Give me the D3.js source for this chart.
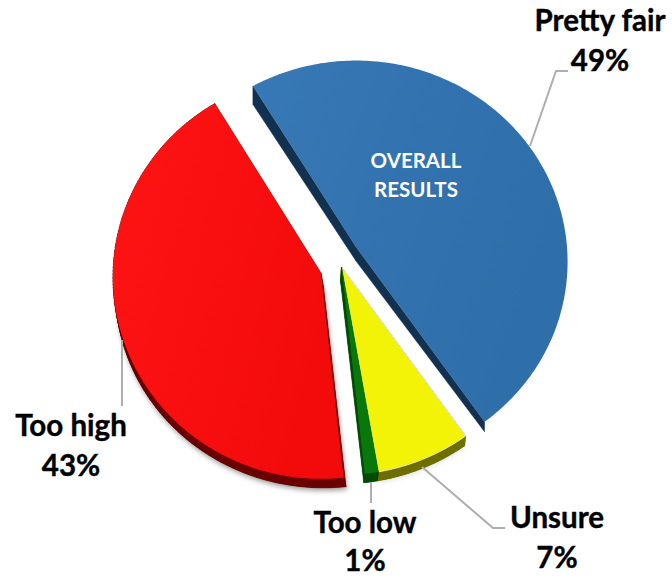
<!DOCTYPE html>
<html>
<head>
<meta charset="utf-8">
<script src="https://cdn.jsdelivr.net/npm/d3@7/dist/d3.min.js"></script>
<style>
html,body{margin:0;padding:0;background:#fff}
svg{display:block}
text{font-family:Lato,"Open Sans",sans-serif;font-weight:700;text-anchor:middle}
</style>
</head>
<body>
<svg id="c" width="672" height="578"></svg>
<script>
// data
const categories = ["Pretty fair", "Unsure", "Too low", "Too high"];
const values = [49, 7, 1, 43];
const centerTitle = ["OVERALL", "RESULTS"];
// style and layout
const faceColors = ["#3273b0", "#f3f308", "#08780a", "#f90d0d"];
const sideColors = ["#12304f", "#6e6e00", "#034a06", "#6a0000"];
const apexes = [[356, 247], [341.5, 267], [341.5, 267], [321, 273]];
const radii = [211, 208, 208, 208];
const dropShiftX = [0, -1, -1, 2.5];
const tilt = [0.949, 0.95, 0.95, 0.97];
const perspective = [0.074, 0.05, 0.05, 0.02];
const labelPos = [[600, 31, 71], [557, 528, 568], [365, 533, 571], [71, 436, 476]];
const leaders = [
  [[530, 146], [556, 71], [568, 71]],
  [[422, 467], [493, 528], [505, 528]],
  [[371, 482], [371, 503]],
  [[122, 340], [122, 406]]
];
const START = -31.3 * Math.PI / 180;

const svg = d3.select("#c");
const defs = svg.append("defs");
defs.append("filter").attr("id", "soft").attr("x", "-10%").attr("y", "-10%").attr("width", "120%").attr("height", "120%")
  .append("feGaussianBlur").attr("stdDeviation", 2.5);
const grads = [["g0", "#3778b6", "#2e6ea9"], ["g3", "#ff1414", "#f30a0a"]];
grads.forEach(([id, a, b]) => {
  const g = defs.append("linearGradient").attr("id", id).attr("x1", "0").attr("y1", "0").attr("x2", "1").attr("y2", "0.4");
  g.append("stop").attr("offset", "0").attr("stop-color", a);
  g.append("stop").attr("offset", "1").attr("stop-color", b);
});
const fills = [`url(#g0)`, faceColors[1], faceColors[2], `url(#g3)`];

const pie = d3.pie().sort(null).value(d => d).startAngle(START).endAngle(START + 2 * Math.PI);
const arcs = pie(values);
const line = d3.line();

// plane-to-screen projection with slight perspective
function project(a, r, apex, drop, i) {
  const u = Math.sin(a) * r, v = -Math.cos(a) * r, w = 1 - perspective[i] * v;
  const d = drop ? 14 - 5 * v : 0;
  const sx = drop ? dropShiftX[i] : 0;
  return [apex[0] + radii[i] * u / w + sx, apex[1] + radii[i] * tilt[i] * v / w + d];
}
function outline(arc, apex, drop, i) {
  const n = Math.max(4, Math.ceil((arc.endAngle - arc.startAngle) * 60));
  const pts = d3.range(n + 1).map(k => project(arc.startAngle + (arc.endAngle - arc.startAngle) * k / n, 1, apex, drop, i));
  return [project(0, 0, apex, drop, i), ...pts];
}

const order = [3, 0, 1, 2];
// soft shadow below the red and yellow slices
svg.append("path").attr("d", line(outline(arcs[3], [apexes[3][0] + 1, apexes[3][1] + 3], true, 3)) + "Z")
  .attr("fill", "#555").attr("opacity", .55).attr("filter", "url(#soft)");
svg.append("path").attr("d", line(outline(arcs[1], [apexes[1][0], apexes[1][1] + 2], true, 1)) + "Z")
  .attr("fill", "#777").attr("opacity", .2).attr("filter", "url(#soft)");

order.forEach(i => {
  const top = outline(arcs[i], apexes[i], false, i), bot = outline(arcs[i], apexes[i], true, i);
  const g = svg.append("g");
  if (i === 0) {
    // the blue slice only shows its straight cut edges
    const last = top.length - 1;
    [[0, 1], [last, 0]].forEach(([a, b]) => g.append("path")
      .attr("d", line([top[a], top[b], bot[b], bot[a]]) + "Z").attr("fill", sideColors[i])
      .attr("stroke", sideColors[i]).attr("stroke-width", .5));
  } else {
    g.append("path").attr("d", line(bot) + "Z").attr("fill", sideColors[i]);
    top.forEach((p, j) => {
      const q = (j + 1) % top.length;
      g.append("path").attr("d", line([p, top[q], bot[q], bot[j]]) + "Z")
        .attr("fill", sideColors[i]).attr("stroke", sideColors[i]).attr("stroke-width", .5);
    });
  }
  g.append("path").attr("d", line(top) + "Z").attr("fill", fills[i])
    .attr("stroke", i === 1 ? "#e4e4c8" : "none").attr("stroke-width", i === 1 ? 1 : 0);
});

// leaders
leaders.forEach(l => svg.append("path").attr("d", line(l)).attr("fill", "none")
  .attr("stroke", "#aeaeae").attr("stroke-width", 2));

// labels
categories.forEach((c, i) => {
  const [x, y1, y2] = labelPos[i];
  [[y1, c], [y2, values[i] + "%"]].forEach(([y, t]) => svg.append("text").attr("x", x).attr("y", y)
    .attr("font-size", 29.5).attr("fill", "#000").attr("stroke", "#000").attr("stroke-width", .4).text(t));
});
centerTitle.forEach((t, i) => svg.append("text").attr("x", 416).attr("y", 168 + i * 29)
  .attr("font-size", 20.5).attr("fill", "#fff").text(t));
</script>
</body>
</html>
